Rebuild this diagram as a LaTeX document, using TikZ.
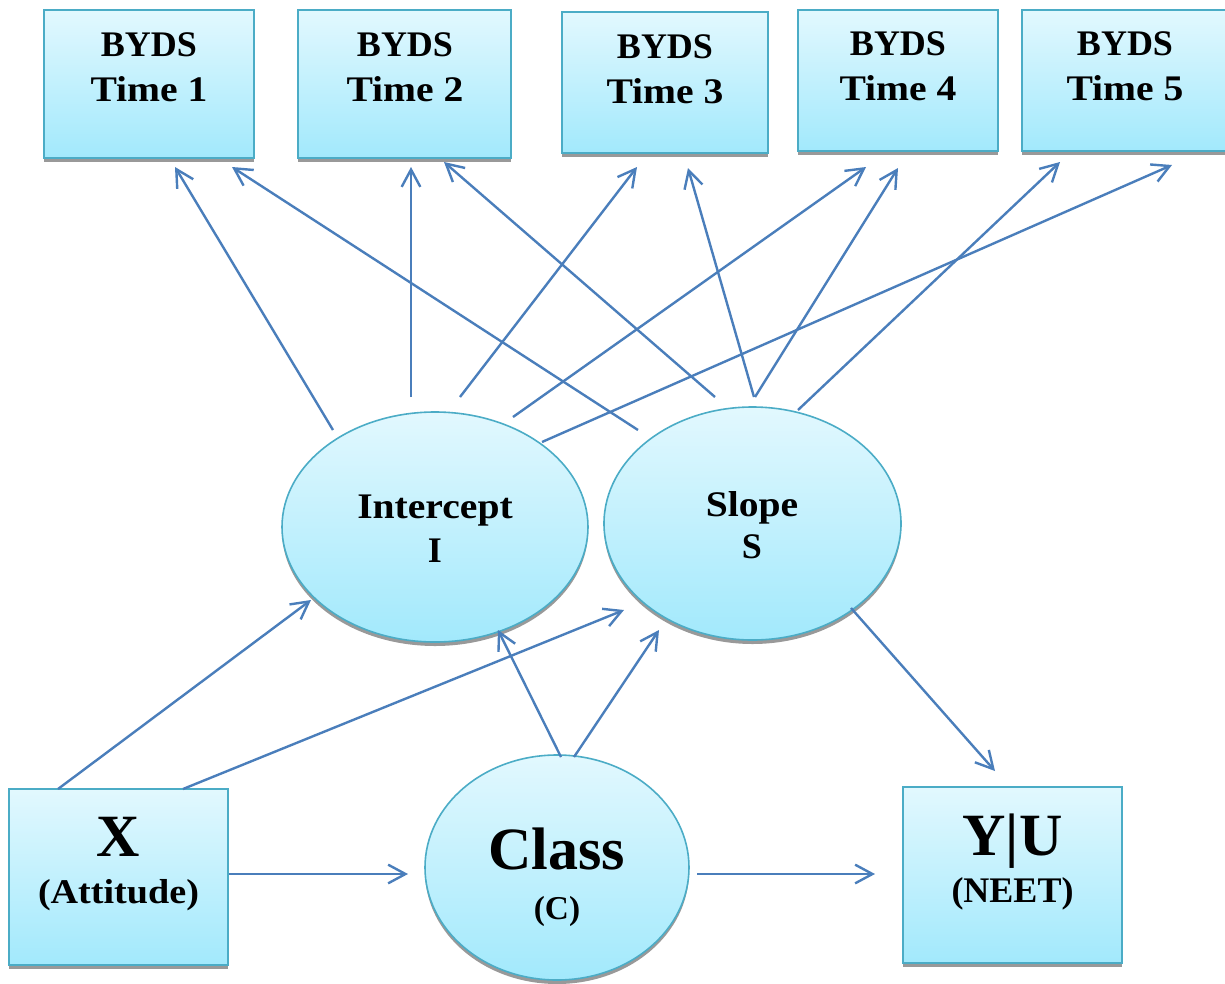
\documentclass[tikz,border=0pt]{standalone}
\usepackage{fontspec}
\setmainfont{Liberation Serif}
\newfontfamily\widef{Liberation Serif}[FakeStretch=1.1]
\usetikzlibrary{arrows.meta,shadows,shapes.geometric}
\definecolor{edgec}{HTML}{4BACC6}
\definecolor{arrc}{HTML}{4A7EBB}
\definecolor{topc}{HTML}{E2F8FE}
\definecolor{botc}{HTML}{A2E9FC}
\begin{document}
\begin{tikzpicture}[x=0.75pt,y=-0.75pt,
  shp/.style={draw=edgec, top color=topc, bottom color=botc,
    drop shadow={shadow xshift=0pt, shadow yshift=-3pt, fill=black!40, opacity=1}},
  boxn/.style={shp, rectangle, inner sep=0pt, line width=1.5pt},
  elln/.style={shp, ellipse, inner sep=0pt, line width=1.2pt},
  txt/.style={anchor=base, inner sep=0pt, font=\bfseries\fontsize{27}{27}\selectfont},
  wtxt/.style={anchor=base, inner sep=0pt, font=\widef\bfseries\fontsize{27}{27}\selectfont},
  bigtxt/.style={anchor=base, inner sep=0pt, font=\bfseries\fontsize{45}{45}\selectfont},
  con/.style={draw=arrc, line width=1.8pt, -{Straight Barb[length=13pt,width=14pt,line width=1.8pt]}}]
\useasboundingbox (0,0) rectangle (1225,983);

% top boxes
\node[boxn, minimum width=157.5pt, minimum height=111pt] (t1) at (149,84) {};
\node[boxn, minimum width=159.75pt, minimum height=111pt] (t2) at (404.5,84) {};
\node[boxn, minimum width=154.5pt, minimum height=105.75pt] (t3) at (665,82.5) {};
\node[boxn, minimum width=150pt, minimum height=105.75pt] (t4) at (898,80.5) {};
\node[boxn, minimum width=154.5pt, minimum height=105.75pt] (t5) at (1125,80.5) {};

\node[txt] (t1a) at (149,56) {BYDS};
\node[wtxt] (t1b) at (149,101) {Time 1};
\node[txt] (t2a) at (405,56) {BYDS};
\node[wtxt] (t2b) at (405,101) {Time 2};
\node[txt] (t3a) at (665,58) {BYDS};
\node[wtxt] (t3b) at (665,103) {Time 3};
\node[txt] (t4a) at (898,55) {BYDS};
\node[wtxt] (t4b) at (898,100) {Time 4};
\node[txt] (t5a) at (1125,55) {BYDS};
\node[wtxt] (t5b) at (1125,100) {Time 5};

% ellipses
\node[elln, minimum width=229.5pt, minimum height=172.5pt] (I) at (435,527) {};
\node[elln, minimum width=222.75pt, minimum height=174.75pt] (S) at (752.5,523.5) {};
\node[elln, minimum width=198pt, minimum height=168.75pt] (C) at (557,867.5) {};

\node[wtxt] (Ia) at (435,518) {Intercept};
\node[txt] (Ib) at (435,562) {I};
\node[wtxt] (Sa) at (752,516) {Slope};
\node[txt] (Sb) at (752,558) {S};
\node[bigtxt] (Ca) at (557,869) {Class};
\node[txt, font=\bfseries\fontsize{25}{25}\selectfont] (Cb) at (557,919) {(C)};

% bottom boxes
\node[boxn, minimum width=164.25pt, minimum height=132pt] (X) at (118.5,877) {};
\node[boxn, minimum width=164.25pt, minimum height=132pt] (Y) at (1012.5,875) {};
\node[bigtxt] (Xa) at (118.5,856) {X};
\node[wtxt, font=\widef\bfseries\fontsize{26}{26}\selectfont] (Xb) at (118.5,903) {(Attitude)};
\node[bigtxt] (Ya) at (1012.5,855) {Y|U};
\node[txt] (Yb) at (1012.5,902) {(NEET)};

% connector coordinates
\coordinate (iA) at (333,430); \coordinate (eA) at (175,167);
\coordinate (iB) at (411,397); \coordinate (eB) at (411,167);
\coordinate (iC) at (460,397); \coordinate (eC) at (637,167);
\coordinate (iD) at (513,417); \coordinate (eD) at (866,167);
\coordinate (iE) at (542,442); \coordinate (eE) at (1172,165);
\coordinate (sA) at (638,430); \coordinate (fA) at (232,167);
\coordinate (sB) at (715,397); \coordinate (fB) at (444,162);
\coordinate (sC) at (754,397); \coordinate (fC) at (688,168);
\coordinate (sD) at (755,397); \coordinate (fD) at (898,168);
\coordinate (sE) at (798,410); \coordinate (fE) at (1060,162);
\coordinate (xA) at (58,789);  \coordinate (gA) at (311,600);
\coordinate (xB) at (183,789); \coordinate (gB) at (624,610);
\coordinate (cA) at (561,757); \coordinate (gC) at (498,630);
\coordinate (cB) at (574,757); \coordinate (gD) at (659,630);
\coordinate (xC) at (229,874); \coordinate (gE) at (408,874);
\coordinate (cC) at (697,874); \coordinate (gF) at (875,874);
\coordinate (sF) at (851,608); \coordinate (gG) at (995,771);

\draw[con] (iA) -- (eA);
\draw[con] (iB) -- (eB);
\draw[con] (iC) -- (eC);
\draw[con] (iD) -- (eD);
\draw[con] (iE) -- (eE);
\draw[con] (sA) -- (fA);
\draw[con] (sB) -- (fB);
\draw[con] (sC) -- (fC);
\draw[con] (sD) -- (fD);
\draw[con] (sE) -- (fE);
\draw[con] (xA) -- (gA);
\draw[con] (xB) -- (gB);
\draw[con] (cA) -- (gC);
\draw[con] (cB) -- (gD);
\draw[con] (xC) -- (gE);
\draw[con] (cC) -- (gF);
\draw[con] (sF) -- (gG);
\end{tikzpicture}
\end{document}
